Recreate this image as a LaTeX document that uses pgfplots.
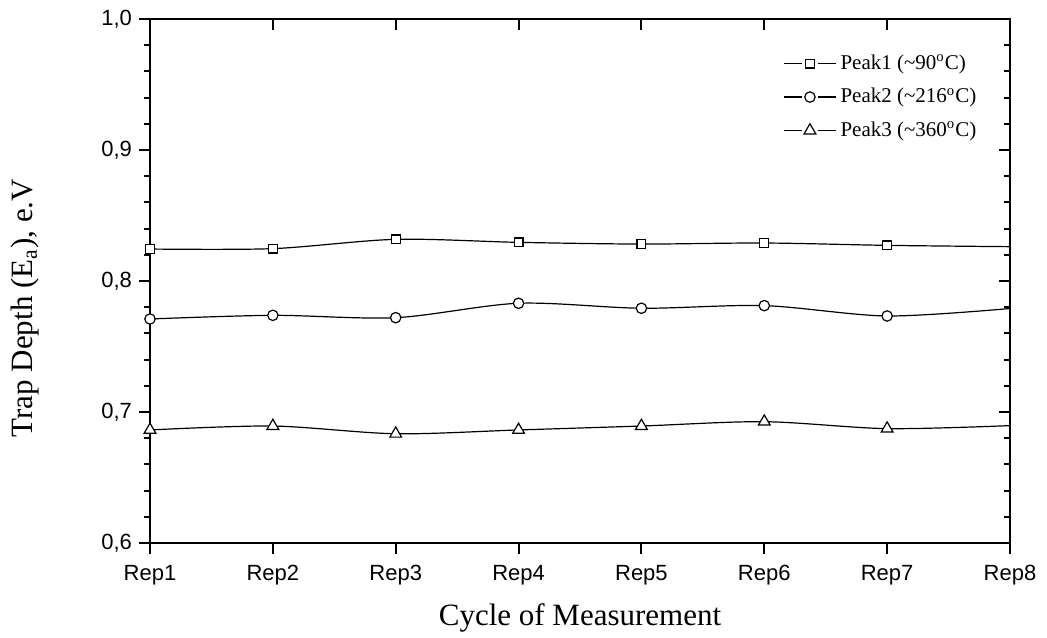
\documentclass[border=0pt]{standalone}
\usepackage{fontspec}
\setmainfont{Liberation Serif}
\newfontfamily\arial{Liberation Sans}
\usepackage{pgfplots}
\pgfplotsset{compat=1.18}

% Trap depth per measurement cycle (Rep1..Rep8 -> 0..7)
\pgfplotstableread{
x  p1     p2     p3
0  0.8244 0.7710 0.6863
1  0.8247 0.7738 0.6893
2  0.8318 0.7720 0.6834
3  0.8295 0.7830 0.6863
4  0.8282 0.7792 0.6893
5  0.8290 0.7812 0.6926
6  0.8272 0.7733 0.6873
7  0.8262 0.7790 0.6896
}\trapdata

\pgfplotsset{
  frame/.style={
    scale only axis, width=430pt, height=262pt,
    xmin=0, xmax=7, ymin=0.6, ymax=1.0,
    xtick={0,...,7}, ytick={0.6,0.7,0.8,0.9,1.0},
    minor y tick num=4,
    axis line style={line width=1.2pt},
    major tick style={line width=1pt, black},
    minor tick style={line width=1pt, black},
    major tick length=5.5pt, minor tick length=3pt,
  },
}

\begin{document}
\begin{tikzpicture}
\path[use as bounding box] (-75pt,-47pt) rectangle (448.5pt,271.5pt);

% top and right ticks point inwards
\begin{axis}[frame, at={(0,0)}, anchor=south west,
  xtick pos=top, ytick pos=right, tick align=inside,
  xticklabels={}, yticklabels={}]
\end{axis}

\begin{axis}[frame, at={(0,0)}, anchor=south west,
  xtick pos=bottom, ytick pos=left, tick align=outside,
  xticklabels={Rep1,Rep2,Rep3,Rep4,Rep5,Rep6,Rep7,Rep8},
  tick label style={font=\arial\fontsize{11}{13}\selectfont},
  xticklabel style={yshift=-2pt},
  /pgf/number format/assume math mode=true,
  /pgf/number format/use comma,
  /pgf/number format/fixed,
  /pgf/number format/fixed zerofill,
  /pgf/number format/precision=1,
  xlabel={Cycle of Measurement},
  ylabel={Trap Depth (E$_{\mathrm{a}}$), e.V},
  xlabel style={font=\fontsize{15.5}{18}\selectfont, at={(axis description cs:0.5,-0.143)}, anchor=center},
  ylabel style={font=\fontsize{15.5}{18}\selectfont, at={(axis description cs:-0.1453,0.448)}, anchor=center},
  legend style={draw=none, fill=none, at={(axis description cs:0.729,0.948)}, anchor=north west,
    font=\fontsize{10.5}{12}\selectfont, row sep=3.8pt,
    /tikz/every even column/.append style={column sep=0pt}},
  legend cell align=left,
  legend image code/.code={
    \draw (0pt,0pt)--(9pt,0pt) (17pt,0pt)--(26pt,0pt);
    \path plot coordinates {(13pt,0pt)};
  },
  every axis plot/.append style={line width=0.6pt, black, smooth, tension=0.5,
    mark indices={1,2,3,4,5,6,7}, mark options={fill=white, solid, line width=0.6pt}},
]
\addplot[mark=square*, mark size=2.2pt] table[x=x, y=p1] {\trapdata};
\addlegendentry{Peak1 (\textasciitilde90\textsuperscript{o}C)}
\addplot[mark=*, mark size=2.6pt] table[x=x, y=p2] {\trapdata};
\addlegendentry{Peak2 (\textasciitilde216\textsuperscript{o}C)}
\addplot[mark=triangle*, mark size=3.4pt] table[x=x, y=p3] {\trapdata};
\addlegendentry{Peak3 (\textasciitilde360\textsuperscript{o}C)}
\end{axis}
\end{tikzpicture}
\end{document}
